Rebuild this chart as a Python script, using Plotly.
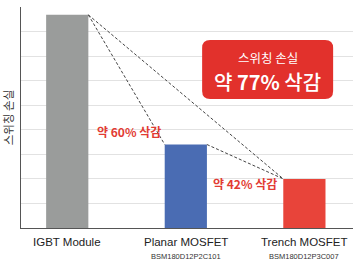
import plotly.graph_objects as go

categories = ["IGBT Module", "Planar MOSFET", "Trench MOSFET"]
models = ["", "BSM180D12P2C101", "BSM180D12P3C007"]
values = [8.68, 3.4, 2.0]
bar_colors = ["#9A9C9B", "#4A6CB3", "#E8443A"]
xpos = [0, 1, 2]
half_w = 0.178

fig = go.Figure()
fig.add_trace(go.Bar(x=xpos, y=values, marker=dict(color=bar_colors, line=dict(width=0)),
                     width=half_w * 2, hoverinfo="skip"))

# dashed comparison lines
pairs = [(0, 1), (0, 2), (1, 2)]
for a, b in pairs:
    fig.add_trace(go.Scatter(x=[xpos[a] + half_w, xpos[b] - half_w], y=[values[a], values[b]],
                             mode="lines", line=dict(color="#444444", width=1, dash="3px,2px"),
                             hoverinfo="skip"))

font = "Noto Sans CJK KR, Liberation Sans, Arial"
ann = []
for i, (c, m) in enumerate(zip(categories, models)):
    ann.append(dict(x=xpos[i], y=0, xref="x", yref="y", yshift=-14, text=c, showarrow=False,
                    font=dict(size=11.5, color="#222222", family="Liberation Sans, Arial")))
    if m:
        ann.append(dict(x=xpos[i], y=0, xref="x", yref="y", yshift=-28, text=m, showarrow=False,
                        font=dict(size=7.5, color="#333333", family="Liberation Sans, Arial")))
ann.append(dict(x=0.52, y=3.95, xref="x", yref="y", text="약 60% 삭감", showarrow=False,
                font=dict(size=12, color="#E23B33", family=font, weight=600)))
ann.append(dict(x=1.5, y=1.8, xref="x", yref="y", text="약 42% 삭감", showarrow=False,
                font=dict(size=12, color="#E23B33", family=font, weight=600)))
ann.append(dict(x=1.69, y=6.95, xref="x", yref="y", text="스위칭 손실", showarrow=False,
                font=dict(size=12.5, color="white", family=font)))
ann.append(dict(x=1.69, y=5.95, xref="x", yref="y", text="약 <b>77%</b> 삭감", showarrow=False,
                font=dict(size=20, color="white", family=font, weight=500)))

# rounded box (pixel-sized around anchor)
w, h, r = 131, 59, 8
x0, y0 = -w / 2, -h / 2
x1, y1 = w / 2, h / 2
path = (f"M {x0+r},{y0} L {x1-r},{y0} Q {x1},{y0} {x1},{y0+r} L {x1},{y1-r} Q {x1},{y1} {x1-r},{y1} "
        f"L {x0+r},{y1} Q {x0},{y1} {x0},{y1-r} L {x0},{y0+r} Q {x0},{y0} {x0+r},{y0} Z")
shapes = [dict(type="path", xref="x", yref="y", xsizemode="pixel", ysizemode="pixel",
               xanchor=1.69, yanchor=6.45, path=path, fillcolor="#E2312C",
               line=dict(width=0), layer="above")]

fig.update_layout(
    width=360, height=261, margin=dict(l=21, r=7, t=7, b=33),
    paper_bgcolor="white", plot_bgcolor="white", showlegend=False,
    xaxis=dict(range=[-0.39, 2.41], showticklabels=False, showgrid=False, zeroline=False,
               showline=True, linecolor="#555555", linewidth=1.2, fixedrange=True),
    yaxis=dict(range=[0, 9], dtick=1, showticklabels=False, showgrid=True, gridcolor="#E2E2E2",
               gridwidth=1, zeroline=False, showline=True, linecolor="#555555", linewidth=1.2,
               title=dict(text="스위칭 손실", font=dict(size=11.5, color="#333333", family=font),
                          standoff=4)),
    annotations=ann, shapes=shapes,
)
fig.write_html("out.html")
